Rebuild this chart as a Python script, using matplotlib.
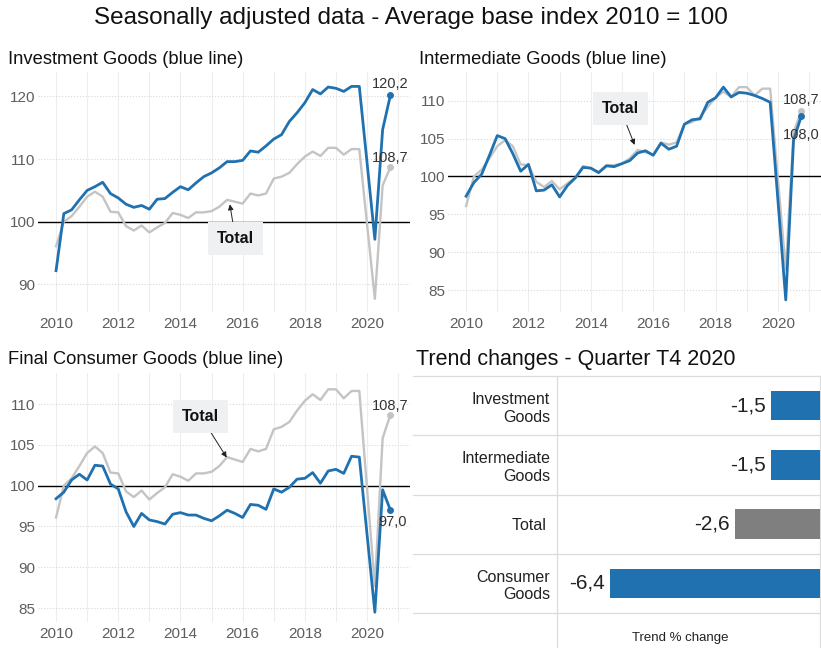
import numpy as np
import matplotlib
matplotlib.use("Agg")
import matplotlib.pyplot as plt

plt.rcParams['font.family'] = ['Liberation Sans', 'DejaVu Sans']

# quarterly index, 2010 Q1 .. 2020 Q4 (average 2010 = 100)
total = [96.1, 100.0, 100.9, 102.4, 104.0, 104.8, 104.0, 101.6, 101.5, 99.3, 98.6,
         99.4, 98.3, 99.1, 99.8, 101.4, 101.1, 100.6, 101.5, 101.5, 101.7, 102.4,
         103.5, 103.2, 102.9, 104.5, 104.2, 104.5, 106.9, 107.2, 107.8, 109.2,
         110.4, 111.2, 110.5, 111.8, 111.8, 110.7, 111.6, 111.6, 99.6, 87.7,
         105.8, 108.7]
investment = [92.2, 101.3, 101.9, 103.5, 105.0, 105.6, 106.3, 104.5, 103.8, 102.8,
              102.3, 102.6, 102.0, 103.6, 103.7, 104.7, 105.6, 105.1, 106.2, 107.2,
              107.8, 108.6, 109.6, 109.6, 109.8, 111.3, 111.1, 112.1, 113.2, 113.9,
              116.0, 117.4, 119.0, 121.1, 120.4, 121.5, 121.3, 120.8, 121.6, 121.6,
              109.4, 97.2, 114.7, 120.2]
intermediate = [97.4, 99.2, 100.3, 102.8, 105.4, 105.0, 103.0, 100.7, 101.6, 98.1,
                98.2, 98.9, 97.3, 98.8, 99.8, 101.2, 101.1, 100.5, 101.4, 101.3,
                101.7, 102.1, 103.1, 103.4, 102.8, 104.4, 103.6, 104.0, 106.9, 107.5,
                107.6, 109.8, 110.4, 111.8, 110.5, 111.1, 111.0, 110.7, 110.3, 109.8,
                96.8, 83.7, 104.8, 108.0]
consumer = [98.4, 99.2, 100.7, 101.4, 100.7, 102.5, 102.4, 100.2, 99.6, 96.8, 95.0,
            96.6, 95.8, 95.6, 95.3, 96.5, 96.7, 96.4, 96.4, 96.0, 95.7, 96.3, 97.0,
            96.6, 96.1, 97.7, 97.6, 97.1, 99.6, 99.2, 99.8, 100.8, 100.9, 101.6,
            100.3, 101.8, 102.0, 101.5, 103.6, 103.5, 94.0, 84.5, 99.5, 97.0]

bar_labels = ["Investment\nGoods", "Intermediate\nGoods", "Total ", "Consumer\nGoods"]
bar_values = [-1.5, -1.5, -2.6, -6.4]

BLUE = '#2071b0'
GREY = '#c4c4c4'
TICK = '#5e5e5e'

quarters = 2010 + np.arange(len(total)) / 4


def label(v):
    return f"{v:.1f}".replace('.', ',')


def line_panel(ax, blue, yticks, ylim, total_pos, tip, blue_off, total_off):
    ax.set_xlim(2009.42, 2021.38)
    ax.set_ylim(*ylim)
    ax.set_xticks(range(2010, 2021, 2))
    ax.set_xticks(range(2010, 2022), minor=True)
    ax.set_yticks(yticks)
    ax.grid(which='both', axis='x', color='#eeeeee', lw=0.8)
    ax.grid(axis='y', color='#d8d8d8', lw=0.8, ls=':')
    ax.tick_params(which='both', length=0, labelsize=11, labelcolor=TICK)
    ax.tick_params(axis='y', pad=2)
    for s in ax.spines.values():
        s.set_visible(False)
    ax.axhline(100, color='black', lw=1.0, zorder=2)
    ax.plot(quarters, total, color=GREY, lw=1.7, zorder=3)
    ax.plot(quarters, blue, color=BLUE, lw=2.0, zorder=4)
    ax.plot(quarters[-1], total[-1], 'o', color=GREY, ms=4, zorder=3)
    ax.plot(quarters[-1], blue[-1], 'o', color=BLUE, ms=4, zorder=4)
    ax.annotate(label(total[-1]), (quarters[-1], total[-1]), xytext=total_off,
                textcoords='offset points', ha='center', va='center',
                fontsize=10.5, color='#333333', zorder=6)
    ax.annotate(label(blue[-1]), (quarters[-1], blue[-1]), xytext=blue_off,
                textcoords='offset points', ha='center', va='center',
                fontsize=10.5, color='#333333', zorder=6)
    ax.annotate('Total', xy=tip, xytext=total_pos, ha='center', va='center',
                fontsize=11.5, fontweight='bold', color='#111111', zorder=5,
                bbox=dict(boxstyle='square,pad=0.55', fc='#eef0f2', ec='none'),
                arrowprops=dict(arrowstyle='-|>', color='#222222', lw=0.7,
                                mutation_scale=8, shrinkA=0, shrinkB=1))


fig = plt.figure(figsize=(8.21, 6.48), dpi=100)

fig.text(0.5, 1 - 18 / 648, "Seasonally adjusted data - Average base index 2010 = 100",
         ha='center', va='center', fontsize=17.5, color='#111111')
fig.text(8 / 821, 1 - 60 / 648, "Investment Goods (blue line)", ha='left', va='center',
         fontsize=13.2, color='#111111')
fig.text(419 / 821, 1 - 60 / 648, "Intermediate Goods (blue line)", ha='left', va='center',
         fontsize=13.2, color='#111111')
fig.text(8 / 821, 1 - 360 / 648, "Final Consumer Goods (blue line)", ha='left', va='center',
         fontsize=13.2, color='#111111')
fig.text(416 / 821, 1 - 360 / 648, "Trend changes - Quarter T4 2020", ha='left', va='center',
         fontsize=15.5, color='#111111')

ax1 = fig.add_axes([38 / 821, 1 - 312 / 648, 372 / 821, 240 / 648])
line_panel(ax1, investment, [90, 100, 110, 120], (85.6, 123.9),
           (2015.77, 97.3), (2015.58, 103.0), (0, 8), (0, 7))

ax2 = fig.add_axes([448 / 821, 1 - 312 / 648, 373 / 821, 240 / 648])
line_panel(ax2, intermediate, [85, 90, 95, 100, 105, 110], (82.1, 113.8),
           (2014.94, 109.0), (2015.42, 104.0), (0, -14), (0, 7.5))

ax3 = fig.add_axes([38 / 821, 1 - 622 / 648, 372 / 821, 249 / 648])
line_panel(ax3, consumer, [85, 90, 95, 100, 105, 110], (83.3, 113.8),
           (2014.65, 108.5), (2015.51, 103.3), (1.5, -8.5), (0, 6.5))

# trend change bars
ax4 = fig.add_axes([557 / 821, 1 - 613 / 648, 263 / 821, 237 / 648])
rows = np.arange(len(bar_values))
colors = [BLUE, BLUE, '#7f7f7f', BLUE]
ax4.barh(rows, bar_values, height=0.5, color=colors, zorder=3)
for r, v in zip(rows, bar_values):
    ax4.text(v - 0.15, r, label(v), ha='right', va='center', fontsize=15, color='#222222')
ax4.set_xlim(-8, 0)
ax4.set_ylim(3.5, -0.5)
ax4.set_yticks(rows)
ax4.set_yticklabels(bar_labels, fontsize=11.5, color='#222222')
ax4.tick_params(length=0, pad=5)
ax4.set_xticks([])
ax4.set_xlabel("Trend % change", fontsize=9.5, color='#222222', labelpad=16)
ax4.xaxis.set_label_coords(0.47, -0.08)
for s in ax4.spines.values():
    s.set_visible(False)
sep = '#dcdcdc'
for yb in np.arange(-0.5, len(bar_values), 1.0):
    ax4.plot([-0.546, 1.0], [yb, yb], transform=ax4.get_yaxis_transform(),
             color=sep, lw=0.9, clip_on=False)
for xb in (0.0, 1.0):
    ax4.plot([xb, xb], [-0.16, 1.0], transform=ax4.transAxes, color=sep, lw=0.9,
             clip_on=False)

fig.savefig("out.png", dpi=100)
